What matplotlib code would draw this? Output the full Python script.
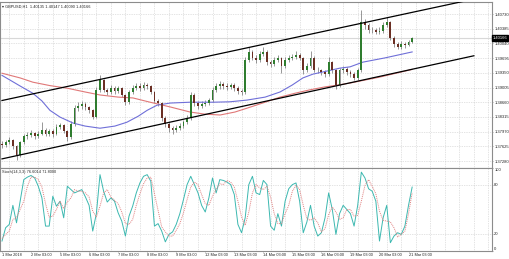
import numpy as np
import matplotlib.pyplot as plt

plt.rcParams['font.family'] = ['Liberation Sans', 'DejaVu Sans']

# GBPUSD, 3-hour candles starting 1 Mar 2018 (index = candle number)
close = [1.3765, 1.3772, 1.3777, 1.3763, 1.3742, 1.3772, 1.3786, 1.3789, 1.3793, 1.3786,
         1.3791, 1.3800, 1.3791, 1.3798, 1.3791, 1.3808, 1.3812, 1.3798, 1.3784, 1.3815,
         1.3852, 1.3857, 1.3862, 1.3855, 1.3848, 1.3831, 1.3895, 1.3918, 1.3895, 1.3890,
         1.3899, 1.3892, 1.3899, 1.3883, 1.3866, 1.3890, 1.3899, 1.3904, 1.3899, 1.3906,
         1.3904, 1.3890, 1.3869, 1.3864, 1.3829, 1.3815, 1.3805, 1.3800, 1.3805, 1.3810,
         1.3819, 1.3829, 1.3883, 1.3864, 1.3857, 1.3862, 1.3864, 1.3871, 1.3895, 1.3904,
         1.3909, 1.3904, 1.3902, 1.3906, 1.3899, 1.3892, 1.3890, 1.3965, 1.3984, 1.3970,
         1.3965, 1.3979, 1.3984, 1.3960, 1.3956, 1.3965, 1.3970, 1.3951, 1.3965, 1.3970,
         1.3972, 1.3977, 1.3970, 1.3941, 1.3951, 1.3970, 1.3941, 1.3941, 1.3937, 1.3932,
         1.3960, 1.3941, 1.3906, 1.3941, 1.3944, 1.3937, 1.3932, 1.3923, 1.3941, 1.4054,
         1.4047, 1.4036, 1.4036, 1.4031, 1.4033, 1.4047, 1.4054, 1.4017, 1.4003, 1.3996,
         1.4003, 1.4000, 1.4007, 1.4017]
high = [1.3775, 1.3778, 1.3784, 1.3780, 1.3766, 1.3776, 1.3792, 1.3797, 1.3801, 1.3797,
        1.3798, 1.3820, 1.3805, 1.3804, 1.3802, 1.3814, 1.3818, 1.3815, 1.3801, 1.3822,
        1.3860, 1.3866, 1.3868, 1.3866, 1.3858, 1.3851, 1.3901, 1.3930, 1.3921, 1.3900,
        1.3906, 1.3903, 1.3905, 1.3902, 1.3886, 1.3895, 1.3906, 1.3911, 1.3910, 1.3913,
        1.3912, 1.3907, 1.3893, 1.3873, 1.3867, 1.3833, 1.3820, 1.3811, 1.3812, 1.3817,
        1.3825, 1.3835, 1.3890, 1.3888, 1.3869, 1.3868, 1.3871, 1.3877, 1.3902, 1.3912,
        1.3916, 1.3914, 1.3910, 1.3912, 1.3910, 1.3903, 1.3898, 1.3972, 1.3995, 1.3988,
        1.3976, 1.3986, 1.3995, 1.3988, 1.3966, 1.3972, 1.3977, 1.3973, 1.3971, 1.3977,
        1.3979, 1.3987, 1.3982, 1.3973, 1.3958, 1.3986, 1.3974, 1.3949, 1.3945, 1.3941,
        1.3972, 1.3963, 1.3944, 1.3947, 1.3950, 1.3948, 1.3941, 1.3936, 1.3947, 1.4083,
        1.4062, 1.4052, 1.4043, 1.4040, 1.4042, 1.4054, 1.4065, 1.4057, 1.4021, 1.4008,
        1.4010, 1.4008, 1.4013, 1.4020]
low = [1.3758, 1.3760, 1.3768, 1.3757, 1.3731, 1.3738, 1.3768, 1.3780, 1.3784, 1.3779,
       1.3781, 1.3788, 1.3786, 1.3787, 1.3785, 1.3788, 1.3803, 1.3793, 1.3776, 1.3780,
       1.3811, 1.3846, 1.3850, 1.3848, 1.3840, 1.3826, 1.3828, 1.3890, 1.3890, 1.3883,
       1.3886, 1.3886, 1.3888, 1.3878, 1.3860, 1.3862, 1.3886, 1.3894, 1.3893, 1.3895,
       1.3897, 1.3885, 1.3863, 1.3857, 1.3822, 1.3808, 1.3797, 1.3791, 1.3795, 1.3800,
       1.3805, 1.3815, 1.3825, 1.3858, 1.3851, 1.3852, 1.3856, 1.3860, 1.3867, 1.3890,
       1.3898, 1.3897, 1.3895, 1.3896, 1.3893, 1.3886, 1.3884, 1.3886, 1.3960, 1.3964,
       1.3958, 1.3960, 1.3974, 1.3954, 1.3948, 1.3950, 1.3960, 1.3935, 1.3946, 1.3960,
       1.3964, 1.3967, 1.3964, 1.3933, 1.3936, 1.3946, 1.3936, 1.3934, 1.3930, 1.3926,
       1.3928, 1.3935, 1.3898, 1.3902, 1.3935, 1.3931, 1.3926, 1.3917, 1.3919, 1.3937,
       1.4038, 1.4029, 1.4028, 1.4025, 1.4026, 1.4029, 1.4042, 1.4012, 1.3996, 1.3990,
       1.3992, 1.3994, 1.3997, 1.4004]
first_open = 1.3768
bid = 1.40166

# moving averages, read at candle positions
ma_red_at = [0, 5.0, 8.5, 13.2, 17.9, 22.9, 27, 32, 36.1, 40.8, 46.3, 51.8, 55.9, 60.1,
             64.2, 67.5, 72.5, 76.6, 80.7, 84.8, 89, 92.3, 95.9, 104.1, 113]
ma_red = [1.3934, 1.3923, 1.3913, 1.3905, 1.3899, 1.3890, 1.3883, 1.3878, 1.3876, 1.3866,
          1.3855, 1.3843, 1.3838, 1.3836, 1.3843, 1.3852, 1.3866, 1.3878, 1.3887, 1.3895,
          1.3902, 1.3906, 1.3911, 1.3925, 1.3943]
ma_blue_at = [0, 2.2, 5.0, 8.5, 11.0, 13.2, 16.0, 19.6, 22.9, 27.0, 31.1, 34.4, 37.5, 40.0,
              42.7, 46.3, 51.8, 58.1, 62.8, 67.5, 72.5, 76.6, 79.9, 82.9, 85.7, 88.4, 93.1,
              95.9, 99.4, 105.5, 113]
ma_blue = [1.3929, 1.3918, 1.3904, 1.3887, 1.3869, 1.3847, 1.3831, 1.3817, 1.3810, 1.3805,
           1.3810, 1.3819, 1.3833, 1.3847, 1.3859, 1.3864, 1.3866, 1.3866, 1.3867, 1.3871,
           1.3878, 1.3890, 1.3906, 1.3923, 1.3932, 1.3937, 1.3946, 1.3949, 1.3960, 1.3970,
           1.3984]

# channel lines (start, end)
chan_x = [0, 130]
chan_upper = [1.3870, 1.4108]
chan_lower = [1.3733, 1.3975]

stoch_main = [12, 28, 32, 55, 34, 60, 86, 89, 91, 88, 78, 64, 30, 30, 66, 54, 60, 40, 78, 74,
              70, 72, 74, 65, 55, 24, 45, 92, 72, 59, 64, 60, 46, 36, 18, 42, 54, 70, 82, 90,
              92, 84, 30, 33, 24, 11, 20, 23, 32, 45, 62, 80, 90, 80, 70, 55, 47, 64, 88, 70,
              86, 85, 83, 80, 68, 32, 22, 40, 80, 90, 70, 68, 85, 80, 30, 25, 45, 30, 60, 75,
              80, 82, 60, 22, 35, 55, 30, 18, 22, 40, 70, 50, 20, 45, 55, 50, 45, 30, 55, 95,
              88, 75, 72, 60, 12, 40, 55, 10, 18, 22, 20, 30, 55, 77]
stoch_signal = [15, 20, 24, 38, 40, 50, 60, 78, 89, 89, 86, 77, 57, 41, 42, 50, 60, 51, 59, 64,
                74, 72, 72, 70, 65, 48, 41, 54, 70, 74, 65, 61, 57, 47, 33, 32, 38, 55, 69, 81,
                88, 89, 69, 49, 29, 23, 18, 18, 25, 33, 46, 62, 77, 83, 80, 68, 57, 55, 66, 74,
                81, 80, 85, 83, 77, 60, 41, 31, 47, 70, 80, 76, 74, 78, 65, 45, 33, 33, 45, 55,
                72, 79, 74, 55, 39, 37, 40, 34, 23, 27, 44, 53, 47, 38, 40, 50, 50, 42, 43, 60,
                79, 86, 78, 69, 48, 37, 36, 35, 28, 17, 20, 24, 45, 70]

day_labels = ['1 Mar 2018', '2 Mar 03:00', '5 Mar 03:00', '6 Mar 03:00', '7 Mar 03:00',
              '8 Mar 03:00', '9 Mar 03:00', '12 Mar 03:00', '13 Mar 03:00', '14 Mar 03:00',
              '15 Mar 03:00', '16 Mar 03:00', '19 Mar 03:00', '20 Mar 03:00', '21 Mar 03:00']
price_ticks = [1.40730, 1.40385, 1.40040, 1.39695, 1.39350, 1.39005, 1.38660, 1.38315,
               1.37970, 1.37625, 1.37280]

W, H = 510, 259
fig = plt.figure(figsize=(W / 100, H / 100), dpi=100)
fig.patch.set_facecolor('white')

def frac(x0, y0, x1, y1):
    return [x0 / W, 1 - y1 / H, (x1 - x0) / W, (y1 - y0) / H]

ax = fig.add_axes(frac(0, 2, 492, 168))
ax2 = fig.add_axes(frac(0, 168, 492, 251))

xmin, xmax = -0.55, 135
frame_col = '#8c8c8c'
grid_col = '#c8c8c8'
txt_col = '#222222'
fs_y = 3.0
fs_x = 2.8
for a in (ax, ax2):
    a.set_xlim(xmin, xmax)
    for s in a.spines.values():
        s.set_color(frame_col)
        s.set_linewidth(0.8)
    a.set_xticks(np.arange(2, 135, 4), minor=True)
    a.grid(True, which='minor', axis='x', color=grid_col, ls=(0, (1, 1.5)), lw=0.5)
    a.tick_params(axis='x', which='minor', length=0)
    a.yaxis.tick_right()
    a.set_axisbelow(True)

n = len(close)
idx = np.arange(n)
c = np.array(close)
o = np.r_[first_open, c[:-1]]
hi = np.array(high)
lo = np.array(low)
up = c >= o

# main price panel
ax.set_ylim(1.37116, 1.41012)
ax.set_yticks(price_ticks)
ax.set_yticklabels(['%.5f' % v for v in price_ticks])
ax.tick_params(axis='y', length=1, width=0.5, color=frame_col, labelsize=fs_y, pad=0.6,
               labelcolor=txt_col)
ax.set_xticks([])
ax.grid(True, axis='y', color=grid_col, ls=(0, (1, 1.5)), lw=0.5)

ax.axhline(bid, color='#d8d8d8', lw=0.8, zorder=1)

ax.vlines(idx, lo, hi, color='#6e6e6e', lw=0.5, zorder=2)
body_b = np.minimum(o, c)
body_h = np.maximum(np.abs(c - o), 0.00005)
ax.bar(idx[up], body_h[up], bottom=body_b[up], width=0.5, color='#2f7d2f', lw=0, zorder=3)
ax.bar(idx[~up], body_h[~up], bottom=body_b[~up], width=0.5, color='#6b2f24', lw=0, zorder=3)

ax.plot(ma_red_at, ma_red, color='#e07878', lw=0.8, zorder=2)
ax.plot(ma_blue_at, ma_blue, color='#6f6fd8', lw=0.8, zorder=2)

ax.plot(chan_x, chan_upper, color='black', lw=0.9, zorder=4)
ax.plot(chan_x, chan_lower, color='black', lw=0.9, zorder=4)

ax.text(2 / 492, 1 - 3 / 166, '\u25be GBPUSD,H1  1.40135 1.40147 1.40090 1.40166',
        transform=ax.transAxes, fontsize=fs_x, va='top', ha='left', color=txt_col)
ax.text(1.002, bid, '%.5f' % bid, transform=ax.get_yaxis_transform(), fontsize=fs_y,
        va='center', ha='left', color='white',
        bbox=dict(boxstyle='square,pad=0.15', fc='black', ec='black'), zorder=6, clip_on=False)

# stochastic panel
ax2.set_ylim(0, 100)
ax2.set_yticks([0, 20, 80, 100])
ax2.set_yticklabels(['0', '20', '80', '100'])
ax2.tick_params(axis='y', length=1, width=0.5, color=frame_col, labelsize=fs_y, pad=0.6,
                labelcolor=txt_col)
for lab, va in zip(ax2.get_yticklabels(), ['bottom', 'center', 'center', 'top']):
    lab.set_va(va)
ax2.grid(True, axis='y', color=grid_col, ls=(0, (1, 1.5)), lw=0.5)
ax2.plot(idx, stoch_main, color='#3cb8b0', lw=0.7)
ax2.plot(idx, stoch_signal, color='#e08080', lw=0.7, ls=(0, (1, 1)))
ax2.text(2 / 492, 0.97, 'Stoch(14,3,3) 76.6014 71.8000', transform=ax2.transAxes,
         fontsize=fs_x, va='top', ha='left', color=txt_col)

ax2.set_xticks(np.arange(0, 8 * len(day_labels), 8))
ax2.set_xticklabels(day_labels)
ax2.tick_params(axis='x', which='major', length=1, width=0.5, color=frame_col, labelsize=fs_x,
                pad=0.8, labelcolor=txt_col)
for lab in ax2.get_xticklabels():
    lab.set_ha('left')

fig.savefig('out.png', dpi=100, facecolor='white')
